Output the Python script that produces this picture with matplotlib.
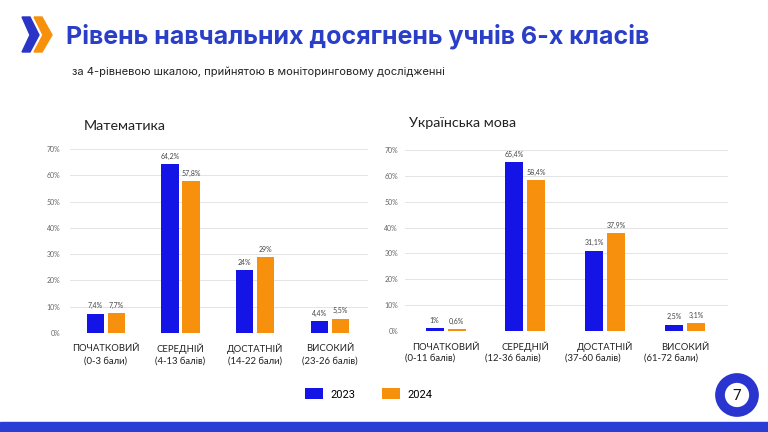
import matplotlib

matplotlib.use("Agg")
import matplotlib.pyplot as plt
import numpy as np
from matplotlib.patches import Polygon, Circle, Rectangle

# data
levels_math = ["ПОЧАТКОВИЙ", "СЕРЕДНІЙ", "ДОСТАТНІЙ", "ВИСОКИЙ"]
ranges_math = ["(0-3 бали)", "(4-13 балів)", "(14-22 бали)", "(23-26 балів)"]
math_2023 = [7.4, 64.2, 24.0, 4.4]
math_2024 = [7.7, 57.8, 29.0, 5.5]

levels_ukr = ["ПОЧАТКОВИЙ", "СЕРЕДНІЙ", "ДОСТАТНІЙ", "ВИСОКИЙ"]
ranges_ukr = ["(0-11 балів)", "(12-36 балів)", "(37-60 балів)", "(61-72 бали)"]
ukr_2023 = [1.0, 65.4, 31.1, 2.5]
ukr_2024 = [0.6, 58.4, 37.9, 3.1]

years = ["2023", "2024"]
yticks = [0, 10, 20, 30, 40, 50, 60, 70]

BLUE_BAR = "#1414e6"
ORANGE = "#f7900c"
TITLE_BLUE = "#2a3ec8"
W, H = 768, 432

plt.rcParams["font.family"] = ["Lato", "DejaVu Sans"]

fig = plt.figure(figsize=(W / 100, H / 100), dpi=100)
fig.patch.set_facecolor("white")


def px_axes(x0, x1, y_top, y_bot):
    return fig.add_axes([x0 / W, 1 - y_bot / H, (x1 - x0) / W, (y_bot - y_top) / H])


def fmt(v):
    s = f"{v:.1f}".rstrip("0").rstrip(".")
    return s.replace(".", ",") + "%"


def draw_panel(ax, v23, v24, width, off, xlim, pad):
    x = np.arange(len(v23))
    b1 = ax.bar(x - off, v23, width, color=BLUE_BAR, zorder=3)
    b2 = ax.bar(x + off, v24, width, color=ORANGE, zorder=3)
    for bars, vals in ((b1, v23), (b2, v24)):
        for r, v in zip(bars, vals):
            ax.annotate(fmt(v), (r.get_x() + r.get_width() / 2, v), xytext=(0, 3),
                        textcoords="offset points", ha="center", va="bottom",
                        fontsize=5, color="#444444")
    ax.set_ylim(0, 70)
    ax.set_xlim(*xlim)
    ax.set_yticks(yticks)
    ax.set_yticklabels([f"{t}%" for t in yticks])
    ax.tick_params(axis="y", length=0, pad=pad, labelsize=5, labelcolor="#666666")
    ax.set_xticks([])
    ax.grid(axis="y", color="#e4e4e4", lw=0.7, zorder=0)
    for s in ax.spines.values():
        s.set_visible(False)
    return b1, b2


# left panel: Математика
axL = px_axes(70, 368, 149, 333)
bars = draw_panel(axL, math_2023, math_2024, 0.23, 0.14, (-0.48, 3.51), 7)
for i, (lv, rg) in enumerate(zip(levels_math, ranges_math)):
    axL.text(i, -6.0, lv, ha="center", va="center", fontsize=6.8, color="#222222")
    axL.text(i, -10.5, rg, ha="center", va="center", fontsize=6.8, color="#222222")
fig.text(84 / W, 1 - 126 / H, "Математика", ha="left", va="center", fontsize=10.3, color="#222222")

# right panel: Українська мова
axR = px_axes(405, 728, 150, 331)
draw_panel(axR, ukr_2023, ukr_2024, 0.226, 0.138, (-0.51, 3.54), 5)
for i, (lv, rg) in enumerate(zip(levels_ukr, ranges_ukr)):
    axR.text(i, -6.2, lv, ha="center", va="center", fontsize=6.8, color="#222222")
    axR.text(i - 0.51, -10.5, rg, ha="left", va="center", fontsize=6.8, color="#222222")
fig.text(409 / W, 1 - 123 / H, "Українська мова", ha="left", va="center", fontsize=10.3, color="#222222")

# legend
fig.legend(bars, years, loc="center", bbox_to_anchor=(369 / W, 1 - 394 / H), ncol=2,
           frameon=False, handlelength=1.6, handleheight=1.1,
           handletextpad=0.7, columnspacing=2.4, prop={"family": ["Roboto", "DejaVu Sans"], "size": 8})

# titles
fig.text(66 / W, 1 - 36 / H, "Рівень навчальних досягнень учнів 6-х класів", ha="left", va="center",
         fontsize=18, fontweight="bold", color=TITLE_BLUE, family=["Inter", "DejaVu Sans"])
fig.text(72 / W, 1 - 72 / H, "за 4-рівневою шкалою, прийнятою в моніторинговому дослідженні",
         ha="left", va="center", fontsize=8, color="#222222",
         family=["Inter", "DejaVu Sans"])

# decorations: chevrons, page badge, bottom band
deco = fig.add_axes([0, 0, 1, 1], zorder=-1)
deco.set_xlim(0, W)
deco.set_ylim(H, 0)
deco.axis("off")
deco.add_patch(Polygon([(34, 17), (42, 17), (52, 35), (42, 52), (34, 52), (43, 35)], color=ORANGE))
deco.add_patch(Polygon([(22, 17), (30, 17), (39, 35), (30, 52), (22, 52), (30, 35)], color="#2a35c8"))
deco.add_patch(Circle((737, 395), 17, facecolor="white", edgecolor="#2a35d0", lw=7))
deco.text(737, 396, "7", ha="center", va="center", fontsize=11, color="#111111",
          family=["Roboto", "DejaVu Sans"])
deco.add_patch(Rectangle((0, 422), W, 10, color="#2a3ed6"))

fig.savefig("out.png", dpi=100)
